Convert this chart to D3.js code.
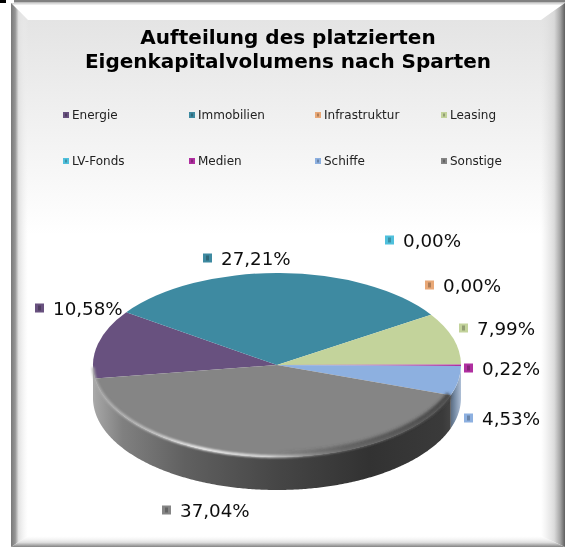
<!DOCTYPE html>
<html lang="de">
<head>
  <meta charset="UTF-8">
  <title>Aufteilung des platzierten Eigenkapitalvolumens</title>
  <script src="https://d3js.org/d3.v7.min.js"></script>
  <style>
    html, body { margin: 0; padding: 0; background: #fff; }
    svg { display: block; font-family: "DejaVu Sans", sans-serif; }
    .title { font-size: 20px; font-weight: bold; fill: #000; text-anchor: middle; filter: url(#textBlur); }
    .legend-text { font-size: 12px; fill: #222; filter: url(#textBlur); }
    .value-text { font-size: 18.3px; fill: #111; filter: url(#textBlur); }
  </style>
</head>
<body>
  <svg id="chart" width="568" height="548"></svg>

  <script>
    // Chart data
    const categories = ["Energie", "Immobilien", "Infrastruktur", "Leasing", "LV-Fonds", "Medien", "Schiffe", "Sonstige"];
    const values = [10.58, 27.21, 0, 7.99, 0, 0.22, 4.53, 37.04];
    const colors = ["#68517f", "#3e8aa1", "#e9a877", "#c3d39b", "#4fc0dc", "#b02fa0", "#8db0e0", "#858585"];
    const titleLines = ["Aufteilung des platzierten", "Eigenkapitalvolumens nach Sparten"];

    // Chart size and pie geometry
    const width = 568, height = 548;
    const cx = 277, cy = 365, rx = 184, ry = 92, depth = 33;
    const startDeg = 261.5;

    // Value labels are hand placed in the original (swatch left edge, middle y)
    const labelPlace = {
      "Energie": [35, 308], "Immobilien": [203, 258], "Infrastruktur": [425, 285], "Leasing": [459, 328],
      "LV-Fonds": [385, 240], "Medien": [464, 368], "Schiffe": [464, 418], "Sonstige": [162, 510]
    };

    const svg = d3.select("#chart");
    const defs = svg.append("defs");

    function addGradient(id, attrs, stops) {
      const g = defs.append("linearGradient").attr("id", id).attr("gradientUnits", "userSpaceOnUse");
      Object.entries(attrs).forEach(([k, v]) => g.attr(k, v));
      stops.forEach(s => g.append("stop").attr("offset", s[0]).attr("stop-color", s[1]));
    }

    addGradient("bg", { x1: 0, y1: 20, x2: 0, y2: 235 }, [[0, "#e4e4e4"], [1, "#ffffff"]]);
    addGradient("bevelLeft", { x1: 11, y1: 0, x2: 28, y2: 0 }, [[0, "rgba(120,120,120,1)"], [0.25, "rgba(150,150,150,1)"], [0.45, "rgba(225,225,225,0.95)"], [1, "rgba(240,240,240,0)"]]);
    addGradient("bevelRight", { x1: 541, y1: 0, x2: 565, y2: 0 }, [[0, "rgba(225,225,225,0)"], [0.55, "rgba(215,215,215,0.9)"], [0.8, "rgba(165,165,165,1)"], [1, "rgba(95,95,95,1)"]]);
    addGradient("bevelBottom", { x1: 0, y1: 536, x2: 0, y2: 547 }, [[0, "rgba(245,245,245,0)"], [0.6, "rgba(220,220,220,1)"], [1, "rgba(130,130,130,1)"]]);
    addGradient("wallGrey", { x1: cx - rx, y1: 0, x2: cx + rx, y2: 0 }, [
      [0, "#a8a8a8"], [0.08, "#808080"], [0.25, "#606060"], [0.5, "#464646"], [0.75, "#323232"], [0.95, "#3a3a3a"], [1, "#505050"]
    ]);
    addGradient("wallBlue", { x1: cx + rx - 14, y1: 0, x2: cx + rx, y2: 0 }, [[0, "#46505e"], [0.5, "#70859e"], [1, "#aebfd6"]]);
    addGradient("rim", { x1: cx - rx, y1: 0, x2: cx + rx, y2: 0 }, [
      [0, "#a8a8a8"], [0.15, "#c8c8c8"], [0.3, "#ffffff"], [0.48, "#e0e0e0"], [0.6, "#8a8a8a"], [0.68, "#6a6a6a"], [1, "#505050"]
    ]);
    addGradient("rimShade", { x1: cx, y1: 0, x2: cx + rx, y2: 0 }, [
      [0, "rgba(60,60,60,0)"], [0.4, "rgba(60,60,60,0.5)"], [1, "rgba(50,50,50,0.8)"]
    ]);
    defs.append("filter").attr("id", "soft").append("feGaussianBlur").attr("stdDeviation", 0.9);
    defs.append("filter").attr("id", "softer").append("feGaussianBlur").attr("stdDeviation", 1.8);
    defs.append("filter").attr("id", "textBlur").append("feGaussianBlur").attr("stdDeviation", 0.3);

    // Frame with bevelled edges
    svg.append("rect").attr("x", 14).attr("y", 0).attr("width", 551).attr("height", 2.5).attr("fill", "#808080");
    svg.append("rect").attr("x", 0).attr("y", 0).attr("width", 6).attr("height", 3).attr("fill", "#000");
    svg.append("rect").attr("x", 11).attr("y", 3).attr("width", 554).attr("height", 544).attr("fill", "url(#bg)");
    svg.append("polygon").attr("points", "11,3 565,3 541,20 28,20").attr("fill", "#ffffff");
    svg.append("rect").attr("x", 11).attr("y", 3).attr("width", 554).attr("height", 1.5).attr("fill", "#d8d8d8");
    svg.append("polygon").attr("points", "11,3 28,20 28,536 11,547").attr("fill", "url(#bevelLeft)");
    svg.append("polygon").attr("points", "565,3 541,20 541,536 565,547").attr("fill", "url(#bevelRight)");
    svg.append("polygon").attr("points", "11,547 28,536 541,536 565,547").attr("fill", "url(#bevelBottom)");

    // Title
    svg.selectAll(".title").data(titleLines).enter().append("text")
      .attr("class", "title")
      .attr("x", 288)
      .attr("y", (d, i) => 44 + i * 24)
      .text(d => d);

    // Legend, four columns and two rows
    const legendX = d3.scalePoint().domain(d3.range(4)).range([63, 441]);
    const legendY = d3.scalePoint().domain(d3.range(2)).range([115, 161]);
    const legend = svg.selectAll(".legend").data(categories).enter().append("g")
      .attr("class", "legend")
      .attr("transform", (d, i) => `translate(${legendX(i % 4)},${legendY(Math.floor(i / 4))})`);
    legend.append("rect").attr("x", 0).attr("y", -3).attr("width", 6).attr("height", 6)
      .attr("fill", (d, i) => colors[i]);
    legend.append("rect").attr("x", 2).attr("y", -1.5).attr("width", 2).attr("height", 3)
      .attr("fill", "#000").attr("opacity", 0.25);
    legend.append("text").attr("class", "legend-text").attr("x", 9).attr("y", 4).text(d => d);

    // Pie slices
    const pie = d3.pie().sort(null)
      .startAngle(startDeg * Math.PI / 180)
      .endAngle((startDeg + 360) * Math.PI / 180);
    const slices = pie(values).map((s, i) => ({ ...s, name: categories[i], color: colors[i] }));

    const px = d3.scaleLinear().domain([-1, 1]).range([cx - rx, cx + rx]);
    const py = d3.scaleLinear().domain([-1, 1]).range([cy - ry, cy + ry]);
    const edge = (a, dy) => [px(Math.sin(a)), py(-Math.cos(a)) + dy];

    // Side wall: only the part of a slice that faces the viewer
    function frontAngles(s) {
      const turn = 2 * Math.PI;
      const results = [];
      [0, turn].forEach(k => {
        const a0 = Math.max(s.startAngle, Math.PI / 2 + k);
        const a1 = Math.min(s.endAngle, 3 * Math.PI / 2 + k);
        if (a1 > a0) results.push(d3.range(a0, a1, 0.01).concat([a1]));
      });
      return results;
    }

    const line = d3.line();
    const wallFill = { "Sonstige": "url(#wallGrey)", "Schiffe": "url(#wallBlue)", "Energie": "#a8a8a8" };
    const wall = svg.append("g");
    slices.forEach(s => {
      frontAngles(s).forEach(angles => {
        const outline = angles.map(a => edge(a, 0)).concat(angles.slice().reverse().map(a => edge(a, depth)));
        wall.append("path")
          .attr("d", line(outline) + "Z")
          .attr("fill", wallFill[s.name] || s.color);
      });
    });

    // Top face
    const arc = d3.arc().innerRadius(0).outerRadius(rx);
    svg.append("g")
      .attr("transform", `translate(${cx},${cy}) scale(1,${ry / rx})`)
      .selectAll("path").data(slices).enter().append("path")
      .attr("d", arc)
      .attr("fill", d => d.color);

    // Rim of the grey slice: dark fade on the right, soft highlight along the front
    const rimAngles = d3.range(Math.PI / 2 + 0.36, 3 * Math.PI / 2 - 0.03, 0.01);
    svg.append("path")
      .attr("d", line(rimAngles.map(a => edge(a, -3))))
      .attr("fill", "none")
      .attr("stroke", "url(#rimShade)")
      .attr("stroke-width", 6)
      .attr("filter", "url(#softer)");
    svg.append("path")
      .attr("d", line(rimAngles.map(a => edge(a, -0.5))))
      .attr("fill", "none")
      .attr("stroke", "url(#rim)")
      .attr("stroke-width", 2.5)
      .attr("filter", "url(#soft)");

    // Value labels with small swatch
    const labels = svg.selectAll(".value").data(slices).enter().append("g")
      .attr("class", "value")
      .attr("transform", d => `translate(${labelPlace[d.name][0]},${labelPlace[d.name][1]})`);
    labels.append("rect").attr("x", 0).attr("y", -4.5).attr("width", 9).attr("height", 9)
      .attr("fill", d => d.color);
    labels.append("rect").attr("x", 3).attr("y", -2.5).attr("width", 3).attr("height", 5)
      .attr("fill", "#000").attr("opacity", 0.25);
    labels.append("text").attr("class", "value-text").attr("x", 18).attr("y", 6.5)
      .text(d => d3.format(".2f")(d.value).replace(".", ",") + "%");
  </script>
</body>
</html>
